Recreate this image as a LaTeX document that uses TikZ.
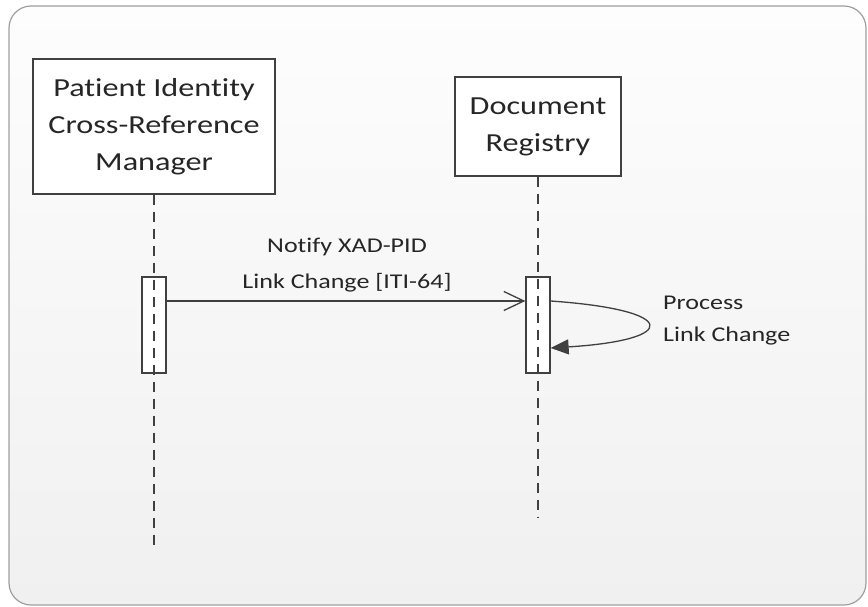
\documentclass[tikz,border=0pt]{standalone}
\usepackage{fontspec}
\setmainfont{Carlito}[Ligatures=NoCommon, FakeStretch=1.24]
\usetikzlibrary{arrows.meta}
\definecolor{ln}{RGB}{64,64,64}
\definecolor{txt}{RGB}{38,38,38}
\definecolor{bgtop}{RGB}{253,253,253}
\definecolor{bgbot}{RGB}{240,240,240}
\tikzset{
  x=1pt, y=-1pt,
  actor/.style={draw=ln, line width=1.3pt, fill=white, align=center, text=txt,
    font=\fontsize{26}{37}\selectfont, inner sep=0pt},
  actbar/.style={draw=ln, line width=1.3pt, fill=white, minimum width=24pt,
    minimum height=96pt, inner sep=0pt},
  lifeline/.style={draw=ln, line width=1.3pt, dash pattern=on 10pt off 7pt},
  msg/.style={draw=ln, line width=1.3pt},
  lbl/.style={align=center, text=txt, font=\fontsize{21}{36}\selectfont, inner sep=0pt},
  lbll/.style={align=left, text=txt, font=\fontsize{21}{32}\selectfont, inner sep=0pt, anchor=west},
}
\begin{document}
\begin{tikzpicture}
\useasboundingbox (0,0) rectangle (868,607);
\shade[top color=bgtop, bottom color=bgbot, rounded corners=22pt]
  (9,6) rectangle (866,605);
\draw[gray!75, line width=1.2pt, rounded corners=22pt] (9,6) rectangle (866,605);

\node[actor, minimum width=242pt, minimum height=135pt] (pix) at (154,126.5)
  {Patient Identity\\Cross-Reference\\Manager};
\node[actor, minimum width=166pt, minimum height=99pt] (reg) at (538,126.5)
  {Document\\Registry};

\node[actbar] (a1) at (154,325) {};
\node[actbar] (a2) at (538,325) {};

\coordinate (e1) at (154,548);
\coordinate (e2) at (538,517);
\draw[lifeline] (pix.south) -- (e1);
\draw[lifeline] (reg.south) -- (e2);

\draw[msg, -{Straight Barb[length=20pt,width=19pt,line width=1.3pt]}]
  (a1.east |- 0,301) coordinate (m1) -- (a2.west |- 0,301) coordinate (m2);
\node[lbl] (ml) at (347,265) {Notify XAD-PID\\Link Change [ITI-64]};

\coordinate (s1) at (a2.east |- 0,301);
\coordinate (s2) at (a2.east |- 0,348);
\draw[msg, -{Triangle[length=18pt,width=15pt]}]
  (s1) .. controls (680,310) and (680,340) .. (s2);
\node[lbll] (pl) at (663,321) {Process\\Link Change};
\end{tikzpicture}
\end{document}
